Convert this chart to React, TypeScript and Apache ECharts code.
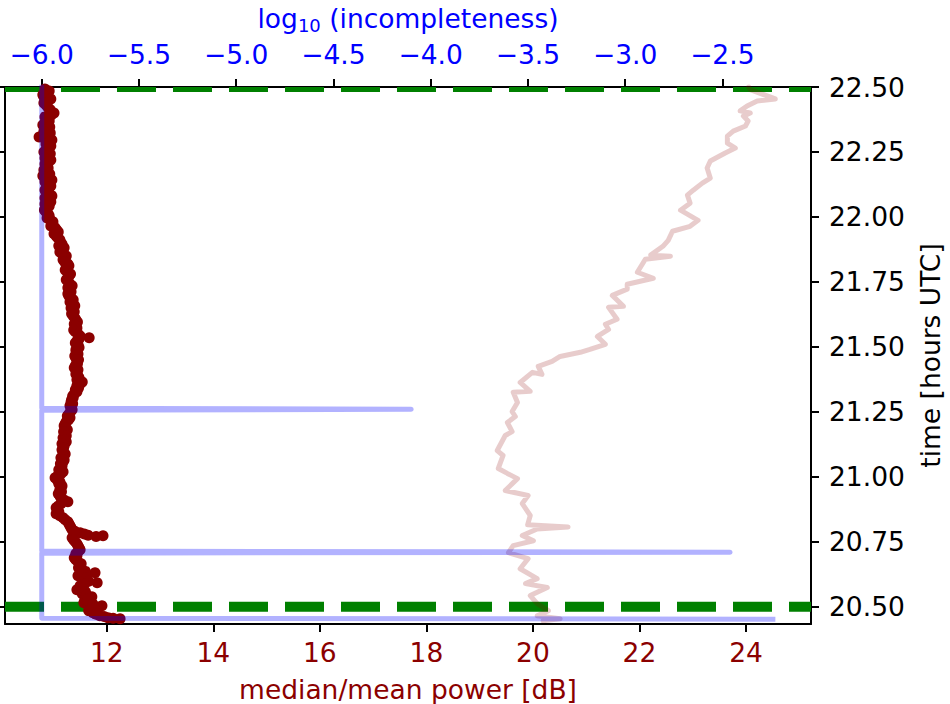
import React, { useEffect, useRef } from "react";
import * as echarts from "echarts";

// ---- data ----
// red scatter: [time (hours UTC), median/mean power (dB)]
const powerSamples: [number, number][] = [
  [22.492,10.84],[22.477,10.88],[22.462,10.82],[22.446,10.90],[22.431,10.86],[22.412,10.94],[22.400,11.01],
  [22.385,10.84],[22.369,10.92],[22.354,10.80],[22.338,10.88],[22.323,10.94],[22.308,10.73],[22.296,10.97],
  [22.281,10.86],[22.265,10.90],[22.250,10.82],[22.235,10.88],[22.219,10.95],[22.204,10.84],[22.188,10.90],
  [22.173,10.86],[22.158,10.80],[22.142,10.97],[22.127,10.88],[22.112,10.92],[22.096,10.86],[22.081,10.97],
  [22.065,10.90],[22.050,10.84],[22.035,10.88],[22.019,10.86],[22.004,10.92],[21.988,10.94],[21.973,10.97],
  [21.958,11.03],[21.942,11.09],[21.927,11.05],[21.912,11.12],[21.896,11.16],[21.881,11.20],[21.865,11.12],
  [21.850,11.24],[21.835,11.18],[21.819,11.27],[21.804,11.24],[21.788,11.26],[21.773,11.29],[21.758,11.24],
  [21.742,11.31],[21.727,11.27],[21.712,11.33],[21.696,11.29],[21.681,11.37],[21.665,11.35],[21.650,11.33],
  [21.635,11.39],[21.619,11.37],[21.604,11.42],[21.588,11.39],[21.573,11.44],[21.558,11.41],[21.542,11.50],
  [21.535,11.67],[21.523,11.44],[21.508,11.46],[21.488,11.42],[21.473,11.46],[21.458,11.42],[21.442,11.44],
  [21.427,11.41],[21.412,11.46],[21.396,11.42],[21.381,11.48],[21.365,11.54],[21.350,11.44],[21.335,11.41],
  [21.319,11.39],[21.304,11.37],[21.288,11.33],[21.273,11.31],[21.258,11.35],[21.242,11.29],[21.227,11.31],
  [21.212,11.24],[21.196,11.20],[21.181,11.26],[21.165,11.22],[21.150,11.18],[21.135,11.24],[21.119,11.20],
  [21.104,11.16],[21.088,11.22],[21.073,11.14],[21.058,11.18],[21.042,11.16],[21.027,11.10],[21.012,11.14],
  [20.996,11.03],[20.981,11.12],[20.965,11.16],[20.950,11.12],[20.935,11.09],[20.919,11.14],[20.904,11.27],
  [20.888,11.09],[20.873,11.07],[20.858,11.05],[20.842,11.18],[20.827,11.27],[20.812,11.31],[20.796,11.35],
  [20.785,11.50],[20.775,11.65],[20.770,11.80],[20.773,11.93],[20.765,11.35],[20.750,11.41],[20.735,11.46],
  [20.719,11.50],[20.704,11.42],[20.688,11.39],[20.673,11.46],[20.658,11.50],[20.642,11.54],[20.631,11.78],
  [20.619,11.46],[20.604,11.57],[20.592,11.82],[20.581,11.50],[20.565,11.44],[20.550,11.54],[20.538,11.72],
  [20.527,11.59],[20.515,11.57],[20.504,11.91],[20.492,11.69],[20.477,11.74],[20.465,11.87],[20.458,12.02],
  [20.454,12.25],
  [22.485,10.92],[22.470,10.80],[22.454,10.95],[22.438,10.82],[22.420,10.90],[22.392,10.96],[22.377,10.88],
  [22.361,10.84],[22.346,10.93],[22.330,10.82],[22.315,10.90],[22.300,10.84],[22.289,10.92],[22.273,10.95],
  [22.258,10.86],[22.243,10.94],[22.227,10.84],[22.212,10.91],[22.196,10.87],[22.181,10.82],[22.165,10.93],
  [22.150,10.88],[22.135,10.84],[22.119,10.95],[22.104,10.84],[22.089,10.91],[22.073,10.84],[22.058,10.95],
  [22.042,10.92],[22.027,10.83],[22.012,10.90],[21.996,10.88],
  [21.981,10.99],[21.965,10.95],[21.950,11.06],[21.935,11.01],[21.920,11.08],[21.904,11.13],[21.889,11.10],
  [21.873,11.18],[21.858,11.16],[21.842,11.22],[21.827,11.21],[21.812,11.29],[21.796,11.22],[21.780,11.32],
  [21.765,11.27],[21.750,11.28],[21.735,11.35],[21.719,11.30],[21.704,11.27],[21.689,11.33],[21.673,11.31],
  [21.658,11.40],[21.642,11.36],[21.627,11.34],[21.611,11.40],[21.596,11.45],[21.580,11.42],[21.565,11.38],
  [21.550,11.46],[21.530,11.48],
  [21.515,11.41],[21.498,11.48],[21.480,11.44],[21.465,11.40],[21.450,11.47],[21.435,11.45],[21.420,11.39],
  [21.404,11.44],[21.388,11.46],[21.373,11.44],[21.357,11.50],[21.342,11.47],[21.327,11.44],[21.311,11.36],
  [21.296,11.34],[21.281,11.36],[21.265,11.33],[21.250,11.32],
  [21.234,11.26],[21.219,11.28],[21.204,11.22],[21.188,11.23],[21.173,11.19],[21.158,11.24],[21.142,11.21],
  [21.127,11.16],[21.112,11.19],[21.096,11.18],[21.081,11.18],[21.065,11.20],[21.050,11.13],[21.035,11.14],
  [21.019,11.18],[21.004,11.08],[20.988,11.07],[20.973,11.10],[20.958,11.14],[20.942,11.15],[20.927,11.12],
  [20.911,11.20],[20.896,11.14],[20.881,11.05],[20.865,11.10],[20.850,11.12],[20.835,11.22],[20.819,11.29],
  [20.804,11.33],
  [20.790,11.40],[20.780,11.58],[20.757,11.38],[20.742,11.44],[20.727,11.48],[20.712,11.46],[20.696,11.44],
  [20.681,11.42],[20.665,11.52],[20.650,11.47],[20.636,11.60],[20.625,11.55],[20.611,11.62],[20.598,11.66],
  [20.586,11.58],[20.573,11.52],[20.558,11.60],[20.544,11.62],[20.532,11.66],[20.521,11.64],[20.510,11.74],
  [20.498,11.80],[20.485,11.66],[20.471,11.80],[20.462,11.95],[20.456,12.12],
];

// pink line: [time, dB]
const referenceTrace: [number, number][] = [
  [20.446,20.19],[20.454,20.51],[20.465,20.08],[20.485,20.29],[20.512,20.08],[20.543,19.95],[20.574,20.27],
  [20.589,19.86],[20.608,20.08],[20.646,19.76],[20.685,19.91],[20.708,19.54],[20.735,19.63],[20.754,20.01],
  [20.774,19.80],[20.799,20.08],[20.807,20.66],[20.815,19.90],[20.851,19.95],[20.897,19.80],[20.928,19.91],
  [20.947,19.48],[20.993,19.71],[21.013,19.52],[21.032,19.35],[21.082,19.44],[21.101,19.33],[21.159,19.48],
  [21.174,19.61],[21.209,19.52],[21.232,19.67],[21.251,19.61],[21.286,19.71],[21.325,19.63],[21.329,19.95],
  [21.363,19.76],[21.402,19.99],[21.394,20.17],[21.425,20.10],[21.444,20.36],[21.463,20.51],[21.479,20.89],
  [21.490,21.07],[21.510,21.36],[21.540,21.21],[21.567,21.42],[21.587,21.36],[21.606,21.58],[21.652,21.42],
  [21.656,21.70],[21.698,21.49],[21.722,21.77],[21.741,21.77],[21.764,22.26],[21.787,21.96],[21.837,22.11],
  [21.849,22.58],[21.853,22.21],[21.887,22.44],[21.910,22.54],[21.945,22.62],[21.964,22.95],[21.987,23.10],
  [22.026,22.77],[22.053,22.95],[22.084,22.90],[22.103,23.01],[22.130,23.18],[22.149,23.33],[22.188,23.27],
  [22.215,23.33],[22.246,23.61],[22.265,23.80],[22.284,23.65],[22.311,23.65],[22.330,23.76],[22.350,23.99],
  [22.369,24.04],[22.388,23.95],[22.400,24.08],[22.408,23.89],[22.427,24.02],[22.446,24.21],[22.454,24.55],
  [22.490,24.08],[22.500,24.05],
];

// blue line: [time, log10(incompleteness)]
const incompleteness: [number, number][] = [
  [20.452,-2.24],[20.456,-6.0],[20.706,-6.0],[20.710,-2.46],[20.714,-6.0],
  [21.256,-6.0],[21.260,-4.10],[21.264,-6.0],[22.500,-6.0],
];

// green dashed limits (hours UTC)
const timeLimits = [20.5, 22.5];

const powerTicks = [12, 14, 16, 18, 20, 22, 24];
const logTicks = [-6.0, -5.5, -5.0, -4.5, -4.0, -3.5, -3.0, -2.5];
const timeTicks = [20.5, 20.75, 21.0, 21.25, 21.5, 21.75, 22.0, 22.25, 22.5];

const POWER_MIN = 10.09, POWER_MAX = 25.22;
const LOG_MIN = -6.189, LOG_MAX = -2.044;
const TIME_MIN = 20.4335, TIME_MAX = 22.5;

const FONT = "DejaVu Sans";
const FS = 26.5;
const DARKRED = "#8B0000";
const BLUE = "#0000ff";

export default function App() {
  const ref = useRef<HTMLDivElement>(null);
  useEffect(() => {
    if (!ref.current) return;
    const chart = echarts.init(ref.current, null, { renderer: "svg" });
    const spine = { show: true, onZero: false, lineStyle: { color: "#000", width: 2 } };
    const tick = (vals: number[]) => ({
      show: true, inside: false, length: 8, customValues: vals,
      lineStyle: { color: "#000", width: 2 },
    });
    const fmtLog = (v: number) => (v < 0 ? "\u2212" : "") + Math.abs(v).toFixed(1);
    const option: any = {
      animation: false,
      textStyle: { fontFamily: FONT },
      grid: { left: 5, right: 139, top: 87, bottom: 80, containLabel: false, outerBoundsMode: "none" },
      xAxis: [
        {
          type: "value", position: "bottom", min: POWER_MIN, max: POWER_MAX,
          axisLine: spine, axisTick: tick(powerTicks), splitLine: { show: false },
          axisLabel: {
            customValues: powerTicks, color: DARKRED, fontSize: FS, fontFamily: FONT, margin: 15,
            formatter: (v: number) => String(Math.round(v)),
          },
          name: "median/mean power [dB]", nameLocation: "middle", nameGap: 52,
          nameTextStyle: { color: DARKRED, fontSize: FS, fontFamily: FONT },
        },
        {
          type: "value", position: "top", min: LOG_MIN, max: LOG_MAX,
          axisLine: spine, axisTick: tick(logTicks), splitLine: { show: false },
          axisLabel: {
            customValues: logTicks, color: BLUE, fontSize: FS, fontFamily: FONT, margin: 19,
            formatter: fmtLog,
          },
          name: "{a|log}{sub|10}{a| (incompleteness)}", nameLocation: "middle", nameGap: 53,
          nameTextStyle: {
            color: BLUE, fontSize: FS, fontFamily: FONT,
            rich: {
              a: { color: BLUE, fontSize: FS, fontFamily: FONT },
              sub: { color: BLUE, fontSize: 18, fontFamily: FONT, padding: [13, 0, 0, 0] },
            },
          },
        },
      ],
      yAxis: [
        {
          type: "value", position: "right", min: TIME_MIN, max: TIME_MAX,
          axisLine: spine, axisTick: tick(timeTicks), splitLine: { show: false },
          axisLabel: {
            customValues: timeTicks, color: "#000", fontSize: FS, fontFamily: FONT, margin: 18,
            formatter: (v: number) => v.toFixed(2),
          },
          name: "time [hours UTC]", nameLocation: "middle", nameGap: 106, nameRotate: 90,
          nameTextStyle: { color: "#000", fontSize: FS, fontFamily: FONT },
        },
        {
          type: "value", position: "left", min: TIME_MIN, max: TIME_MAX,
          axisLine: spine, axisTick: tick(timeTicks), splitLine: { show: false },
          axisLabel: { show: false },
        },
      ],
      series: [
        {
          type: "custom", xAxisIndex: 0, yAxisIndex: 0, clip: true, silent: true, z: 1,
          data: timeLimits.map((t) => [POWER_MIN, t]),
          encode: { x: 0, y: 1 },
          renderItem: (params: any, api: any) => {
            const t = api.value(1);
            const p1 = api.coord([POWER_MIN, t]);
            const p2 = api.coord([POWER_MAX, t]);
            return {
              type: "line",
              shape: { x1: p1[0], y1: p1[1], x2: p2[0], y2: p2[1] },
              style: { stroke: "#008000", lineWidth: 10, lineDash: [39, 17], fill: null },
            };
          },
        },
        {
          type: "scatter", xAxisIndex: 0, yAxisIndex: 0, z: 2, symbolSize: 11,
          data: powerSamples.map(([t, p]) => [p, t]),
          itemStyle: { color: DARKRED, opacity: 1 },
        },
        {
          type: "line", xAxisIndex: 0, yAxisIndex: 0, z: 3, clip: true,
          showSymbol: false, symbol: "none",
          data: referenceTrace.map(([t, p]) => [p, t]),
          lineStyle: { color: "rgba(139,0,0,0.2)", width: 5, join: "round", cap: "round" },
        },
        {
          type: "line", xAxisIndex: 1, yAxisIndex: 0, z: 4, clip: true,
          showSymbol: false, symbol: "none",
          data: incompleteness.map(([t, l]) => [l, t]),
          lineStyle: { color: "rgba(0,0,255,0.3)", width: 5, join: "round", cap: "square" },
        },
      ],
    };
    chart.setOption(option);
    return () => chart.dispose();
  }, []);
  return (
    <div
      ref={ref}
      style={{ position: "fixed", left: 0, top: 0, width: 950, height: 704, background: "#fff" }}
    />
  );
}
